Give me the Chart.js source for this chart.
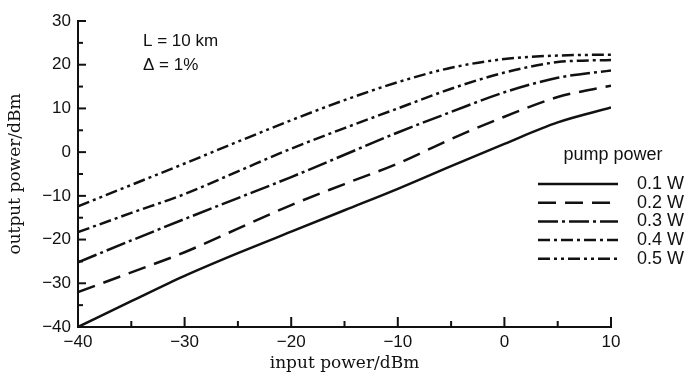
<!DOCTYPE html>
<html>
<head>
<meta charset="utf-8">
<script src="https://cdn.jsdelivr.net/npm/chart.js@4.4.1/dist/chart.umd.min.js"></script>
<style>
  html, body { margin: 0; padding: 0; background: #fff; }
</style>
</head>
<body>
<canvas id="myChart" width="686" height="379"></canvas>
<script>
// input power (dBm) sampled every 5 dB
const inputPower = [-40, -35, -30, -25, -20, -15, -10, -5, 0, 5, 10];

// output power (dBm) for each pump power
const pump01 = [-40.0, -34.1, -28.3, -23.1, -18.2, -13.3, -8.4, -3.2, 1.9, 6.8, 10.2];
const pump02 = [-32.0, -27.5, -22.9, -17.5, -12.1, -7.3, -2.6, 3.0, 8.1, 12.6, 15.2];
const pump03 = [-25.2, -20.2, -15.3, -10.5, -5.7, -0.6, 4.5, 9.2, 13.7, 17.0, 18.7];
const pump04 = [-18.3, -13.9, -9.6, -4.4, 0.8, 5.5, 10.0, 14.5, 18.2, 20.6, 21.1];
const pump05 = [-12.4, -7.5, -2.6, 2.4, 7.3, 11.9, 16.0, 19.3, 21.3, 22.1, 22.3];

const pumpLabels = ['0.1 W', '0.2 W', '0.3 W', '0.4 W', '0.5 W'];
const pumpSeries = [pump01, pump02, pump03, pump04, pump05];
const dashes = [[], [18, 9], [20, 4, 3, 4], [12, 4, 3, 4], [12, 4, 3, 4, 3, 4]];

const notes = ['L = 10 km', '\u0394 = 1%'];
const legendTitle = 'pump power';

const INK = '#111';
const SANS = '"Liberation Sans", Arial, sans-serif';
const SERIF = '"DejaVu Serif", "Liberation Serif", serif';

function fmt(v) {
  if (v % 10 !== 0) return '';
  return v < 0 ? '\u2212' + Math.abs(v) : String(v);
}

// inward tick marks, notes and legend
const extras = {
  id: 'extras',
  afterDraw(chart) {
    const ctx = chart.ctx;
    const xs = chart.scales.x, ys = chart.scales.y;
    ctx.save();
    ctx.strokeStyle = INK;
    ctx.lineWidth = 2;
    ctx.setLineDash([]);
    xs.ticks.forEach(t => {
      const px = xs.getPixelForValue(t.value);
      const len = t.value % 10 === 0 ? 10 : 6;
      ctx.beginPath();
      ctx.moveTo(px, xs.top);
      ctx.lineTo(px, xs.top - len);
      ctx.stroke();
    });
    ys.ticks.forEach(t => {
      const py = ys.getPixelForValue(t.value);
      const len = t.value % 10 === 0 ? 8 : 5;
      ctx.beginPath();
      ctx.moveTo(ys.right, py);
      ctx.lineTo(ys.right + len, py);
      ctx.stroke();
    });

    ctx.fillStyle = INK;
    ctx.textBaseline = 'middle';
    ctx.textAlign = 'left';
    ctx.font = '17px ' + SANS;
    ctx.fillText(notes[0], 143, 41);
    ctx.fillText(notes[1], 143, 65);

    ctx.font = '18px ' + SANS;
    ctx.textAlign = 'center';
    ctx.fillText(legendTitle, 613, 155);
    ctx.textAlign = 'left';
    chart.data.datasets.forEach((ds, i) => {
      const y = 184 + i * 18.7;
      ctx.lineWidth = 2.5;
      ctx.setLineDash(ds.borderDash || []);
      ctx.beginPath();
      ctx.moveTo(538, y);
      ctx.lineTo(618, y);
      ctx.stroke();
      ctx.setLineDash([]);
      ctx.fillText(ds.label, 637, y);
    });
    ctx.restore();
  }
};

const ctx = document.getElementById('myChart').getContext('2d');
new Chart(ctx, {
  type: 'line',
  data: {
    datasets: pumpSeries.map((s, i) => ({
      label: pumpLabels[i],
      data: inputPower.map((x, j) => ({ x: x, y: s[j] })),
      borderColor: INK,
      borderWidth: 2.5,
      borderDash: dashes[i],
      pointRadius: 0,
      cubicInterpolationMode: 'monotone',
      fill: false
    }))
  },
  options: {
    responsive: false,
    animation: false,
    layout: { padding: { left: 0, right: 75, top: 21, bottom: 0 } },
    plugins: { legend: { display: false }, tooltip: { enabled: false } },
    scales: {
      x: {
        type: 'linear',
        min: -40, max: 10,
        afterFit: s => { s.height = 52; },
        grid: { drawOnChartArea: false, drawTicks: false },
        border: { color: INK, width: 2 },
        ticks: {
          stepSize: 5, autoSkip: false, maxRotation: 0, padding: 5,
          color: INK, font: { family: SANS, size: 17 },
          callback: v => fmt(v)
        },
        title: {
          display: true, text: 'input power/dBm', color: INK,
          font: { family: SERIF, size: 17 }, padding: { top: 0, bottom: 5 }
        }
      },
      y: {
        min: -40, max: 30,
        afterFit: s => { s.width = 78; },
        grid: { drawOnChartArea: false, drawTicks: false },
        border: { color: INK, width: 2 },
        ticks: {
          stepSize: 5, autoSkip: false, padding: 7,
          color: INK, font: { family: SANS, size: 17 },
          callback: v => fmt(v)
        },
        title: {
          display: true, text: 'output power/dBm', color: INK,
          font: { family: SERIF, size: 17 }, padding: { top: 5, bottom: 0 }
        }
      }
    }
  },
  plugins: [extras]
});
</script>
</body>
</html>
